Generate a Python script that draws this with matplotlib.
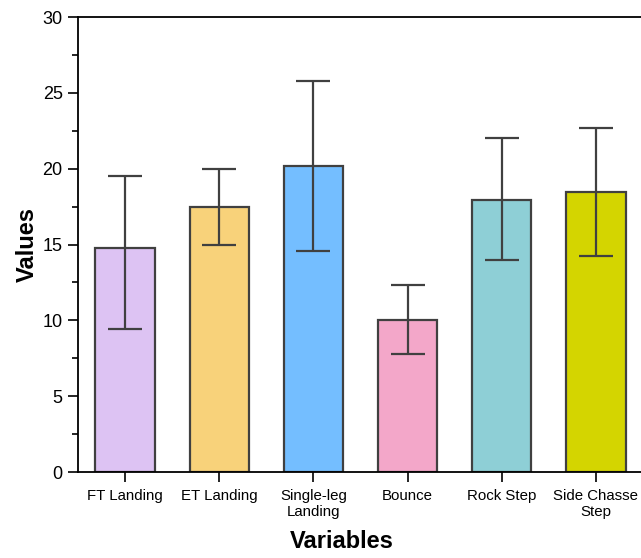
import matplotlib.pyplot as plt
from matplotlib.ticker import MultipleLocator

plt.rcParams['font.family'] = ['Liberation Sans', 'DejaVu Sans']

categories = ['FT Landing', 'ET Landing', 'Single-leg\nLanding', 'Bounce', 'Rock Step', 'Side Chasse\nStep']
values = [14.8, 17.45, 20.15, 10.05, 17.95, 18.45]
err_low = [9.45, 14.95, 14.6, 7.75, 13.95, 14.25]
err_high = [19.5, 20.0, 25.8, 12.35, 22.0, 22.7]
colors = ['#DDC3F3', '#F8D27A', '#74BEFF', '#F3A7C9', '#8ECFD6', '#D4D500']

yerr = [[v - lo for v, lo in zip(values, err_low)],
        [hi - v for v, hi in zip(values, err_high)]]

fig = plt.figure(figsize=(6.41, 5.58), dpi=100)
ax = fig.add_axes([0.1217, 0.1541, 0.8814, 0.8154])

x = range(len(categories))
ax.bar(x, values, width=0.63, color=colors, edgecolor='#404040', linewidth=1.6,
       yerr=yerr, capsize=12,
       error_kw=dict(ecolor='#404040', elinewidth=1.6, capthick=1.6))

ax.set_xlim(-0.5, 5.5)
ax.set_ylim(0, 30)
ax.set_xticks(list(x))
ax.set_xticklabels(categories, fontsize=10.8, linespacing=1.25)
ax.yaxis.set_major_locator(MultipleLocator(5))
ax.yaxis.set_minor_locator(MultipleLocator(2.5))
ax.tick_params(axis='y', which='major', length=7, width=1.2, labelsize=13, pad=4)
ax.tick_params(axis='y', which='minor', length=4, width=1.2)
ax.tick_params(axis='x', which='major', length=7, width=1.2, pad=5)
for s in ax.spines.values():
    s.set_linewidth(1.3)

ax.set_ylabel('Values', fontsize=17, fontweight='bold', labelpad=3)
ax.set_xlabel('Variables', fontsize=17, fontweight='bold')
ax.xaxis.set_label_coords(0.467, -0.128)

fig.savefig('out.png', dpi=100)
